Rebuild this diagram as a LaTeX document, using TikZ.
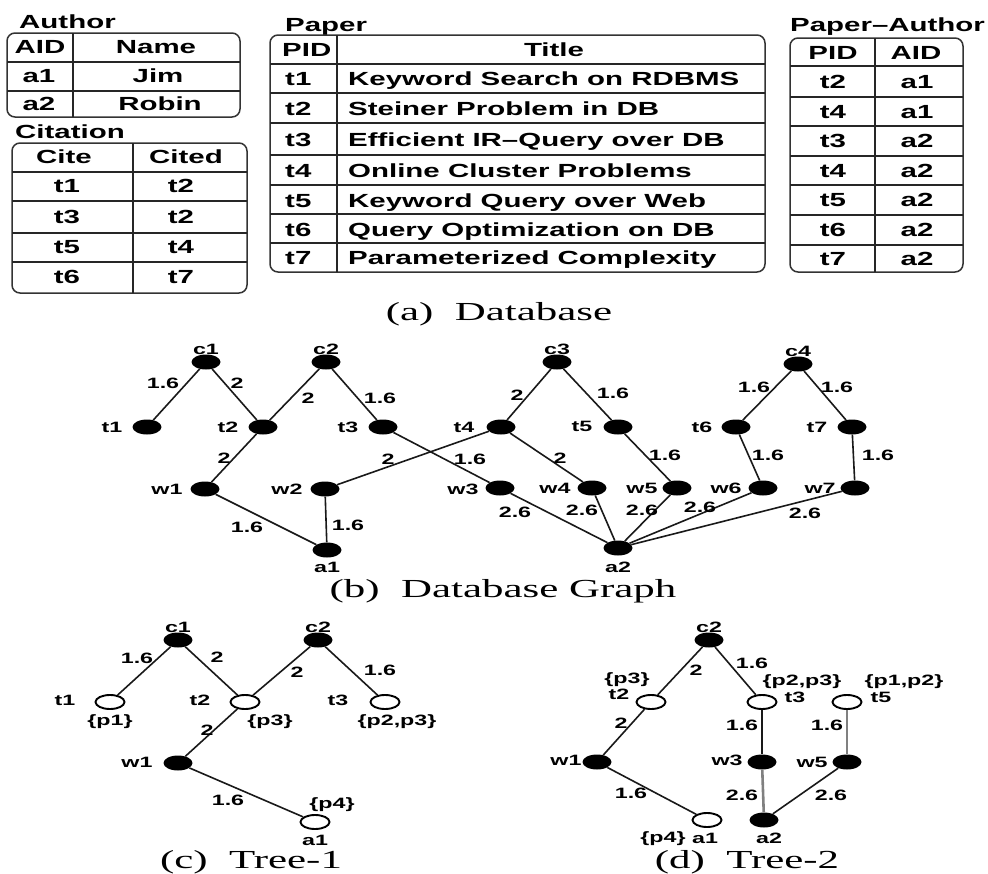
\documentclass[tikz,border=0pt]{standalone}
\usepackage{fontspec}
\usetikzlibrary{shapes.geometric}
\newfontfamily\hv[FakeStretch=1.55]{Liberation Sans}
\newfontfamily\tm[FakeStretch=1.65]{Liberation Serif}
\tikzset{
  tbl/.style={draw=black!80, line width=1.5pt, rounded corners=8pt},
  tline/.style={draw=black!85, line width=1.5pt},
  ttxt/.style={font=\hv\bfseries\fontsize{19}{19}\selectfont, inner sep=0pt, text height=13.6pt, text depth=0pt},
  gtxt/.style={font=\hv\bfseries\fontsize{15}{15}\selectfont, inner sep=0pt, text height=10.7pt, text depth=0pt},
  captxt/.style={font=\tm\fontsize{26}{26}\selectfont, inner sep=0pt, anchor=base},
  fil/.style={ellipse, fill=black, minimum width=29pt, minimum height=15pt, inner sep=0pt},
  opn/.style={ellipse, draw=black, line width=1.9pt, fill=white, minimum width=29pt, minimum height=14pt, inner sep=0pt},
  lnk/.style={draw=black!90, line width=1.6pt},
  glnk/.style={draw=black!50, line width=2.6pt}
}
\begin{document}
\begin{tikzpicture}[x=1pt,y=-1pt]
\useasboundingbox (0,0) rectangle (988,873);
% ---------------- Author table
\node[ttxt, anchor=west] (tAuthor) at (19,22) {Author};
\draw[tbl] (7,33) rectangle (240,117);
\draw[tline] (7,62) -- (240,62);
\draw[tline] (7,91) -- (240,91);
\draw[tline] (73,33) -- (73,117);
\node[ttxt] (au01) at (40,47) {AID};
\node[ttxt] (au02) at (156,47) {Name};
\node[ttxt] (au11) at (39,76) {a1};
\node[ttxt] (au12) at (158,76) {Jim};
\node[ttxt] (au21) at (39,104) {a2};
\node[ttxt] (au22) at (160,104) {Robin};
% ---------------- Citation table
\node[ttxt, anchor=west] (tCitation) at (15,132) {Citation};
\draw[tbl] (12,143) rectangle (247,293);
\draw[tline] (12,172) -- (247,172);
\draw[tline] (12,201) -- (247,201);
\draw[tline] (12,233) -- (247,233);
\draw[tline] (12,262) -- (247,262);
\draw[tline] (133,143) -- (133,293);
\node[ttxt] (ci01) at (64,157) {Cite};
\node[ttxt] (ci02) at (186,157) {Cited};
\node[ttxt] (ci11) at (67,186) {t1};
\node[ttxt] (ci12) at (181,186) {t2};
\node[ttxt] (ci21) at (67,217) {t3};
\node[ttxt] (ci22) at (181,217) {t2};
\node[ttxt] (ci31) at (67,247) {t5};
\node[ttxt] (ci32) at (181,247) {t4};
\node[ttxt] (ci41) at (67,277) {t6};
\node[ttxt] (ci42) at (181,277) {t7};
% ---------------- Paper table
\node[ttxt, anchor=west] (tPaper) at (285,25) {Paper};
\draw[tbl] (270,35) rectangle (765,272);
\foreach \yy in {64,93,123,155,185,214,243} \draw[tline] (270,\yy) -- (765,\yy);
\draw[tline] (337,35) -- (337,272);
\node[ttxt, anchor=west] (pa01) at (282,50) {PID};
\node[ttxt] (pa02) at (554,50) {Title};
\node[ttxt, anchor=west] (pa11) at (285,79) {t1};
\node[ttxt, anchor=west] (pa12) at (348,79) {Keyword Search on RDBMS};
\node[ttxt, anchor=west] (pa21) at (285,109) {t2};
\node[ttxt, anchor=west] (pa22) at (348,109) {Steiner Problem in DB};
\node[ttxt, anchor=west] (pa31) at (285,140) {t3};
\node[ttxt, anchor=west] (pa32) at (348,140) {Efficient IR–Query over DB};
\node[ttxt, anchor=west] (pa41) at (285,171) {t4};
\node[ttxt, anchor=west] (pa42) at (348,171) {Online Cluster Problems};
\node[ttxt, anchor=west] (pa51) at (285,201) {t5};
\node[ttxt, anchor=west] (pa52) at (348,201) {Keyword Query over Web};
\node[ttxt, anchor=west] (pa61) at (285,230) {t6};
\node[ttxt, anchor=west] (pa62) at (348,230) {Query Optimization on DB};
\node[ttxt, anchor=west] (pa71) at (285,258) {t7};
\node[ttxt, anchor=west] (pa72) at (348,258) {Parameterized Complexity};
% ---------------- Paper-Author table
\node[ttxt, anchor=west] (tPA) at (790,25) {Paper–Author};
\draw[tbl] (790,38) rectangle (963,272);
\foreach \yy in {66,97,126,156,185,215,245} \draw[tline] (790,\yy) -- (963,\yy);
\draw[tline] (875,38) -- (875,272);
\node[ttxt] (pq01) at (833,53) {PID};
\node[ttxt] (pq02) at (916,53) {AID};
\node[ttxt] (pq11) at (833,82) {t2};
\node[ttxt] (pq12) at (917,82) {a1};
\node[ttxt] (pq21) at (833,112) {t4};
\node[ttxt] (pq22) at (917,112) {a1};
\node[ttxt] (pq31) at (833,141) {t3};
\node[ttxt] (pq32) at (917,141) {a2};
\node[ttxt] (pq41) at (833,171) {t4};
\node[ttxt] (pq42) at (917,171) {a2};
\node[ttxt] (pq51) at (833,200) {t5};
\node[ttxt] (pq52) at (917,200) {a2};
\node[ttxt] (pq61) at (833,230) {t6};
\node[ttxt] (pq62) at (917,230) {a2};
\node[ttxt] (pq71) at (833,259) {t7};
\node[ttxt] (pq72) at (917,259) {a2};
\node[captxt] (capA) at (499,320) {(a)\ \ Database};
% ---------------- (b) Database graph
\node[fil] (bc1) at (206,362) {};
\node[fil] (bc2) at (326,362) {};
\node[fil] (bc3) at (557,362) {};
\node[fil] (bc4) at (798,364) {};
\node[fil] (bt1) at (147,427) {};
\node[fil] (bt2) at (263,427) {};
\node[fil] (bt3) at (383,427) {};
\node[fil] (bt4) at (501,427) {};
\node[fil] (bt5) at (618,427) {};
\node[fil] (bt6) at (736,427) {};
\node[fil] (bt7) at (852,427) {};
\node[fil] (bw1) at (205,489) {};
\node[fil] (bw2) at (325,489) {};
\node[fil] (bw3) at (500,488) {};
\node[fil] (bw4) at (592,488) {};
\node[fil] (bw5) at (677,488) {};
\node[fil] (bw6) at (763,488) {};
\node[fil] (bw7) at (855,488) {};
\node[fil] (ba1) at (327,550) {};
\node[fil] (ba2) at (618,548) {};
\draw[lnk] (bc1) -- (bt1);
\draw[lnk] (bc1) -- (bt2);
\draw[lnk] (bc2) -- (bt2);
\draw[lnk] (bc2) -- (bt3);
\draw[lnk] (bc3) -- (bt4);
\draw[lnk] (bc3) -- (bt5);
\draw[lnk] (bc4) -- (bt6);
\draw[lnk] (bc4) -- (bt7);
\draw[lnk] (bt2) -- (bw1);
\draw[lnk] (bt4) -- (bw2);
\draw[lnk] (bt3) -- (bw3);
\draw[lnk] (bt4) -- (bw4);
\draw[lnk] (bt5) -- (bw5);
\draw[lnk] (bt6) -- (bw6);
\draw[lnk] (bt7) -- (bw7);
\draw[lnk] (bw1) -- (ba1);
\draw[lnk] (bw2) -- (ba1);
\draw[lnk] (bw3) -- (ba2);
\draw[lnk] (bw4) -- (ba2);
\draw[lnk] (bw5) -- (ba2);
\draw[lnk] (bw6) -- (ba2);
\draw[lnk] (bw7) -- (ba2);
% names
\node[gtxt] (nbc1) at (206,349) {c1};
\node[gtxt] (nbc2) at (326,349) {c2};
\node[gtxt] (nbc3) at (557,349) {c3};
\node[gtxt] (nbc4) at (798,351) {c4};
\node[gtxt] (nbt1) at (112,427) {t1};
\node[gtxt] (nbt2) at (228,427) {t2};
\node[gtxt] (nbt3) at (348,427) {t3};
\node[gtxt] (nbt4) at (464,427) {t4};
\node[gtxt] (nbt5) at (582,426) {t5};
\node[gtxt] (nbt6) at (702,427) {t6};
\node[gtxt] (nbt7) at (817,427) {t7};
\node[gtxt] (nbw1) at (167,489) {w1};
\node[gtxt] (nbw2) at (287,489) {w2};
\node[gtxt] (nbw3) at (463,489) {w3};
\node[gtxt] (nbw4) at (555,488) {w4};
\node[gtxt] (nbw5) at (642,488) {w5};
\node[gtxt] (nbw6) at (726,488) {w6};
\node[gtxt] (nbw7) at (820,488) {w7};
\node[gtxt] (nba1) at (327,567) {a1};
\node[gtxt] (nba2) at (618,567) {a2};
% weights
\node[gtxt] (wb1) at (163,383) {1.6};
\node[gtxt] (wb2) at (237,383) {2};
\node[gtxt] (wb3) at (308,398) {2};
\node[gtxt] (wb4) at (380,398) {1.6};
\node[gtxt] (wb5) at (224,458) {2};
\node[gtxt] (wb6) at (388,459) {2};
\node[gtxt] (wb7) at (470,459) {1.6};
\node[gtxt] (wb8) at (247,527) {1.6};
\node[gtxt] (wb9) at (348,525) {1.6};
\node[gtxt] (wb10) at (517,395) {2};
\node[gtxt] (wb11) at (613,393) {1.6};
\node[gtxt] (wb12) at (560,458) {2};
\node[gtxt] (wb13) at (665,455) {1.6};
\node[gtxt] (wb14) at (754,387) {1.6};
\node[gtxt] (wb15) at (837,387) {1.6};
\node[gtxt] (wb16) at (768,455) {1.6};
\node[gtxt] (wb17) at (878,455) {1.6};
\node[gtxt] (wb18) at (515,512) {2.6};
\node[gtxt] (wb19) at (582,510) {2.6};
\node[gtxt] (wb20) at (642,510) {2.6};
\node[gtxt] (wb21) at (700,507) {2.6};
\node[gtxt] (wb22) at (805,513) {2.6};
\node[captxt] (capB) at (503,597) {(b)\ \ Database Graph};
% ---------------- (c) Tree-1
\node[fil] (cc1) at (178,640) {};
\node[fil] (cc2) at (318,640) {};
\node[opn] (ct1) at (110,702) {};
\node[opn] (ct2) at (245,702) {};
\node[opn] (ct3) at (385,702) {};
\node[fil] (cw1) at (178,763) {};
\node[opn] (ca1) at (315,822) {};
\draw[lnk] (cc1) -- (ct1);
\draw[lnk] (cc1) -- (ct2);
\draw[lnk] (cc2) -- (ct2);
\draw[lnk] (cc2) -- (ct3);
\draw[lnk] (ct2) -- (cw1);
\draw[lnk] (cw1) -- (ca1);
\node[gtxt] (ncc1) at (178,627) {c1};
\node[gtxt] (ncc2) at (318,627) {c2};
\node[gtxt] (nct1) at (65,700) {t1};
\node[gtxt] (pct1) at (110,720) {\{p1\}};
\node[gtxt] (nct2) at (200,700) {t2};
\node[gtxt] (pct2) at (270,720) {\{p3\}};
\node[gtxt] (nct3) at (338,700) {t3};
\node[gtxt] (pct3) at (397,720) {\{p2,p3\}};
\node[gtxt] (ncw1) at (137,762) {w1};
\node[gtxt] (pca1) at (332,803) {\{p4\}};
\node[gtxt] (nca1) at (315,840) {a1};
\node[gtxt] (wc1) at (137,658) {1.6};
\node[gtxt] (wc2) at (217,657) {2};
\node[gtxt] (wc3) at (297,672) {2};
\node[gtxt] (wc4) at (380,670) {1.6};
\node[gtxt] (wc5) at (207,730) {2};
\node[gtxt] (wc6) at (228,800) {1.6};
\node[captxt] (capC) at (251,868) {(c)\ \ Tree-1};
% ---------------- (d) Tree-2
\node[fil] (dc2) at (709,640) {};
\node[opn] (dt2) at (651,702) {};
\node[opn] (dt3) at (762,702) {};
\node[opn] (dt5) at (847,702) {};
\node[fil] (dw1) at (597,762) {};
\node[fil] (dw3) at (762,762) {};
\node[fil] (dw5) at (847,762) {};
\node[opn] (da1) at (707,820) {};
\node[fil] (da2) at (764,820) {};
\draw[lnk] (dc2) -- (dt2);
\draw[lnk] (dc2) -- (dt3);
\draw[lnk] (dt2) -- (dw1);
\draw[lnk] (dt3) -- (dw3);
\draw[glnk] (dt5) -- (dw5);
\draw[lnk] (dw1) -- (da1);
\draw[glnk] (dw3) -- (da2);
\draw[lnk] (dw5) -- (da2);
\node[gtxt] (ndc2) at (709,627) {c2};
\node[gtxt] (ndt2) at (619,694) {t2};
\node[gtxt] (pdt2) at (627,678) {\{p3\}};
\node[gtxt] (ndt3) at (795,697) {t3};
\node[gtxt] (pdt3) at (802,680) {\{p2,p3\}};
\node[gtxt] (ndt5) at (881,697) {t5};
\node[gtxt] (pdt5) at (904,680) {\{p1,p2\}};
\node[gtxt] (ndw1) at (566,760) {w1};
\node[gtxt] (ndw3) at (727,760) {w3};
\node[gtxt] (ndw5) at (812,762) {w5};
\node[gtxt] (pda1) at (663,837) {\{p4\}};
\node[gtxt] (nda1) at (705,838) {a1};
\node[gtxt] (nda2) at (769,838) {a2};
\node[gtxt] (wd1) at (696,670) {2};
\node[gtxt] (wd2) at (752,663) {1.6};
\node[gtxt] (wd3) at (621,723) {2};
\node[gtxt] (wd4) at (742,725) {1.6};
\node[gtxt] (wd5) at (827,725) {1.6};
\node[gtxt] (wd6) at (631,793) {1.6};
\node[gtxt] (wd7) at (742,795) {2.6};
\node[gtxt] (wd8) at (831,795) {2.6};
\node[captxt] (capD) at (747,868) {(d)\ \ Tree-2};
\end{tikzpicture}
\end{document}
